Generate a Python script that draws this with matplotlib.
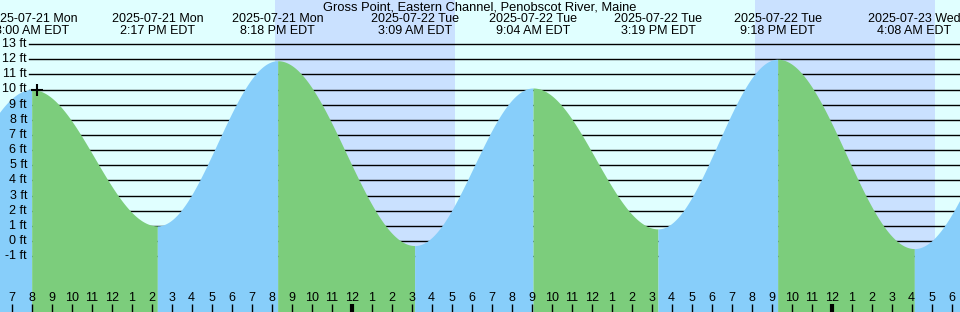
import numpy as np
import pandas as pd
import matplotlib
matplotlib.use("Agg")
import matplotlib.pyplot as plt
import matplotlib.transforms as mtransforms

plt.rcParams["font.family"] = ["Liberation Sans", "DejaVu Sans"]

# tide extremes (first and last lie just outside the window)
event_times = ["2025-07-21 01:50", "2025-07-21 08:00", "2025-07-21 14:17",
               "2025-07-21 20:18", "2025-07-22 03:09", "2025-07-22 09:04",
               "2025-07-22 15:19", "2025-07-22 21:18", "2025-07-23 04:08",
               "2025-07-23 10:20"]
event_heights = [0.5, 10.0, 1.0, 11.9, -0.3, 10.1, 0.8, 12.0, -0.5, 10.3]
event_labels = [None,
                ("2025-07-21 Mon", "8:00 AM EDT"),
                ("2025-07-21 Mon", "2:17 PM EDT"),
                ("2025-07-21 Mon", "8:18 PM EDT"),
                ("2025-07-22 Tue", "3:09 AM EDT"),
                ("2025-07-22 Tue", "9:04 AM EDT"),
                ("2025-07-22 Tue", "3:19 PM EDT"),
                ("2025-07-22 Tue", "9:18 PM EDT"),
                ("2025-07-23 Wed", "4:08 AM EDT"),
                None]

sunsets = ["2025-07-21 20:10", "2025-07-22 20:10"]
sunrises = ["2025-07-22 05:10", "2025-07-23 05:10"]

now_time = "2025-07-21 08:16"
now_height = 10.0

title = "Gross Point, Eastern Channel, Penobscot River, Maine"
ft_levels = list(range(-1, 14))

start = "2025-07-21 06:25"
end = "2025-07-23 06:25"

day_color = "#e0ffff"
night_color = "#cae1ff"
flood_color = "#87cefa"
ebb_color = "#7ccd7c"

base = pd.Timestamp("2025-07-21 00:00")


def hours(s):
    return (pd.Timestamp(s) - base) / pd.Timedelta(hours=1)


W, H = 960, 312
fig = plt.figure(figsize=(W / 100, H / 100), dpi=100)
ax = fig.add_axes([0, 0, 1, 1])
ax.set_axis_off()

x0, x1 = hours(start), hours(end)
px_per_ft = 15.15
zero_px = 241
ax.set_xlim(x0, x1)
ax.set_ylim((zero_px - H) / px_per_ft, zero_px / px_per_ft)
ymin, ymax = ax.get_ylim()

ax.axvspan(x0, x1, color=day_color, lw=0, zorder=0)
for ss, sr in zip(sunsets, sunrises):
    ax.axvspan(hours(ss), hours(sr), color=night_color, lw=0, zorder=0)

# grid lines behind the tide fill
xa = mtransforms.blended_transform_factory(ax.transAxes, ax.transData)
for lv in ft_levels:
    ax.plot([29 / W, 1], [lv, lv], transform=xa, color="black", lw=1, zorder=1)

# tide curve, cosine shape between extremes
th = [hours(t) for t in event_times]
for i in range(len(th) - 1):
    t = np.linspace(th[i], th[i + 1], 200)
    h0, h1 = event_heights[i], event_heights[i + 1]
    h = h0 + (h1 - h0) * (1 - np.cos(np.pi * (t - th[i]) / (th[i + 1] - th[i]))) / 2
    col = flood_color if h1 > h0 else ebb_color
    ax.fill_between(t, ymin, h, color=col, lw=0, zorder=2)

fs = 9

# foot labels
for lv in ft_levels:
    ax.text(27 / W, lv, f"{lv} ft", transform=xa, ha="right", va="center",
            fontsize=fs, zorder=5)

ax.plot(hours(now_time), now_height, marker="+", color="black", ms=8, mew=1.5,
        zorder=6)

# event labels on top
ya = mtransforms.blended_transform_factory(ax.transData, ax.transAxes)
for t, lab in zip(th, event_labels):
    if lab is None:
        continue
    ax.text(t, 1 - 19 / H, lab[0], transform=ya, ha="center", va="center",
            fontsize=fs, zorder=5)
    ax.text(t, 1 - 31 / H, lab[1], transform=ya, ha="center", va="center",
            fontsize=fs, zorder=5)

ax.text(0.5, 1 - 8 / H, title, transform=ax.transAxes, ha="center",
        va="center", fontsize=9.3, zorder=5)

# hour ticks along the bottom
for hr in range(int(np.ceil(x0)), int(np.floor(x1)) + 1):
    lab = hr % 12 if hr % 12 else 12
    ax.text(hr, 1 - 298 / H, str(lab), transform=ya, ha="center", va="center",
            fontsize=fs, zorder=5)
    thick = hr % 24 == 0
    ax.plot([hr, hr], [0, 1 - 304 / H], transform=ya, color="black",
            lw=3 if thick else 1, solid_capstyle="butt", zorder=5)

fig.savefig("out.png", dpi=100)
